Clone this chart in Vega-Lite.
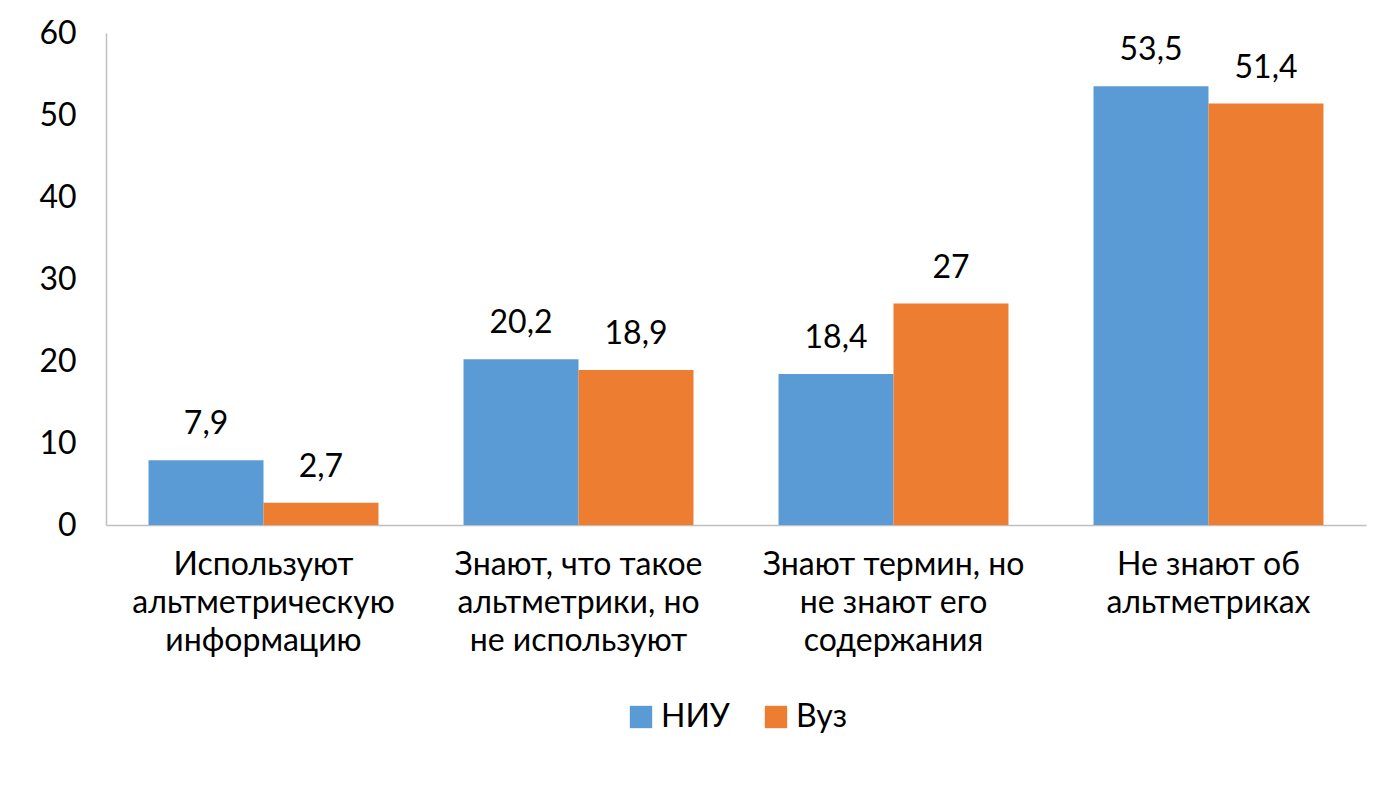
{
  "$schema": "https://vega.github.io/schema/vega-lite/v6.json",
  "width": 1260,
  "height": 492,
  "padding": {"left": 38, "top": 17, "right": 14, "bottom": 5},
  "config": {
    "font": "Lato",
    "view": {"stroke": null},
    "axis": {"labelFont": "Lato", "labelFontSize": 32, "labelColor": "#000", "titleColor": "#000"},
    "legend": {"labelFont": "Lato", "labelFontSize": 32, "labelColor": "#000", "layout": {"bottom": {"anchor": "middle"}}}
  },
  "data": {
    "values": [
      {"cat": "Используют|альтметрическую|информацию", "group": "НИУ", "v": 7.9, "label": "7,9"},
      {"cat": "Используют|альтметрическую|информацию", "group": "Вуз", "v": 2.7, "label": "2,7"},
      {"cat": "Знают, что такое|альтметрики, но|не используют", "group": "НИУ", "v": 20.2, "label": "20,2"},
      {"cat": "Знают, что такое|альтметрики, но|не используют", "group": "Вуз", "v": 18.9, "label": "18,9"},
      {"cat": "Знают термин, но|не знают его|содержания", "group": "НИУ", "v": 18.4, "label": "18,4"},
      {"cat": "Знают термин, но|не знают его|содержания", "group": "Вуз", "v": 27, "label": "27"},
      {"cat": "Не знают об|альтметриках", "group": "НИУ", "v": 53.5, "label": "53,5"},
      {"cat": "Не знают об|альтметриках", "group": "Вуз", "v": 51.4, "label": "51,4"}
    ]
  },
  "encoding": {
    "x": {
      "field": "cat", "type": "nominal", "sort": null, "title": null,
      "scale": {"paddingInner": 0.27, "paddingOuter": 0.135},
      "axis": {"labelAngle": 0, "labelExpr": "split(datum.label, '|')", "labelLineHeight": 38, "ticks": false, "labelPadding": 24, "domainColor": "#bfbfbf", "domainWidth": 1.5, "labelLimit": 400}
    },
    "xOffset": {"field": "group", "type": "nominal", "sort": ["НИУ", "Вуз"]},
    "y": {
      "field": "v", "type": "quantitative", "title": null,
      "scale": {"domain": [0, 60]},
      "axis": {"tickCount": 6, "grid": false, "ticks": false, "domainColor": "#bfbfbf", "domainWidth": 1.5, "labelPadding": 30}
    }
  },
  "layer": [
    {
      "mark": {"type": "bar"},
      "encoding": {
        "color": {
          "field": "group", "type": "nominal", "sort": ["НИУ", "Вуз"],
          "scale": {"domain": ["НИУ", "Вуз"], "range": ["#5b9bd5", "#ed7d31"]},
          "legend": {"orient": "bottom", "direction": "horizontal", "title": null, "symbolType": "square", "symbolSize": 500, "symbolStrokeWidth": 0, "offset": 45, "columnPadding": 30}
        }
      }
    },
    {
      "mark": {"type": "text", "fontSize": 32, "dy": -36, "color": "#000"},
      "encoding": {"text": {"field": "label"}}
    }
  ]
}
